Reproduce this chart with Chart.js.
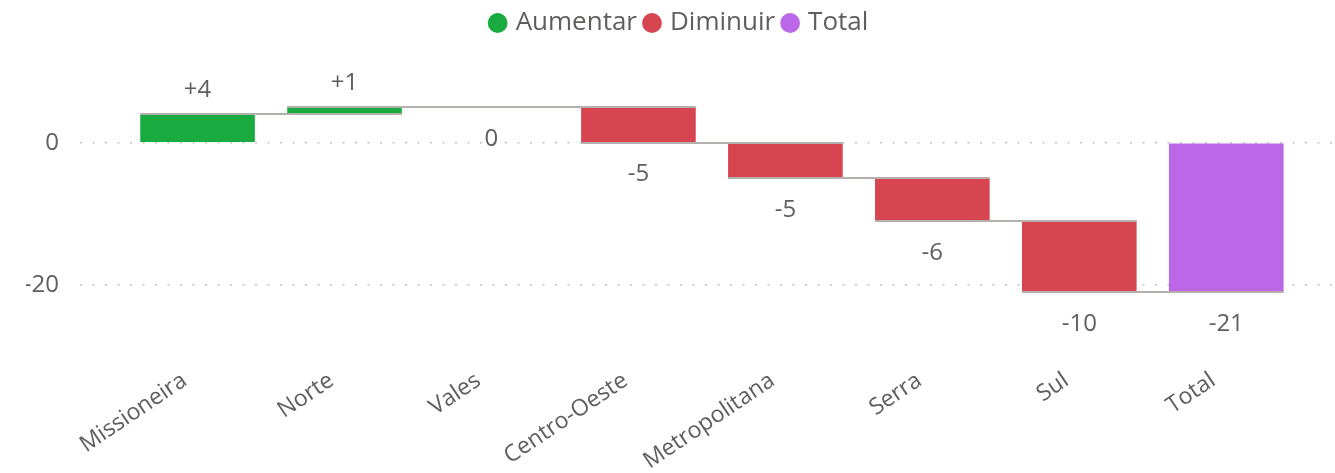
<!DOCTYPE html>
<html>
<head>
<meta charset="utf-8">
<script src="https://cdn.jsdelivr.net/npm/chart.js@4.4.0/dist/chart.umd.min.js"></script>
<style>
  html, body { margin: 0; padding: 0; background: #fff; }
</style>
</head>
<body>
<canvas id="waterfall" width="1335" height="473"></canvas>
<script>
// regions and their change, the last bar is the total
const categories = ['Missioneira', 'Norte', 'Vales', 'Centro-Oeste', 'Metropolitana', 'Serra', 'Sul', 'Total'];
const changes = [4, 1, 0, -5, -5, -6, -10];
const legendNames = ['Aumentar', 'Diminuir', 'Total'];
const legendColors = ['#1aab40', '#d64550', '#bc67e8'];
const yTickValues = [0, -20];

// build floating bars from running totals
const bars = [];
const valueLabels = [];
const barColors = [];
let running = 0;
changes.forEach((d, i) => {
  bars.push({ x: i, y: [running, running + d] });
  running += d;
  valueLabels.push(d > 0 ? '+' + d : String(d));
  barColors.push(d > 0 ? legendColors[0] : legendColors[1]);
});
bars.push({ x: changes.length, y: [0, running] });
valueLabels.push(String(running));
barColors.push(legendColors[2]);

const textColor = '#605e5c';
Chart.defaults.font.family = "'Open Sans', 'Noto Sans', sans-serif";
Chart.defaults.color = textColor;

// grey step lines joining one bar to the next
const connectors = {
  id: 'connectors',
  afterDatasetsDraw(chart) {
    const meta = chart.getDatasetMeta(0);
    const yScale = chart.scales.y;
    const ctx = chart.ctx;
    ctx.save();
    ctx.strokeStyle = '#b3b0ad';
    ctx.lineWidth = 2;
    for (let i = 0; i < meta.data.length - 1; i++) {
      const a = meta.data[i];
      const b = meta.data[i + 1];
      const level = Math.round(yScale.getPixelForValue(bars[i].y[1]));
      ctx.beginPath();
      ctx.moveTo(a.x - a.width / 2, level);
      ctx.lineTo(b.x + b.width / 2, level);
      ctx.stroke();
    }
    ctx.restore();
  }
};

// value labels above rising bars, below the others
const barValues = {
  id: 'barValues',
  afterDatasetsDraw(chart) {
    const meta = chart.getDatasetMeta(0);
    const ctx = chart.ctx;
    ctx.save();
    ctx.font = "24px 'Open Sans', 'Noto Sans', sans-serif";
    ctx.fillStyle = textColor;
    ctx.textAlign = 'center';
    ctx.textBaseline = 'alphabetic';
    meta.data.forEach((el, i) => {
      const top = Math.min(el.y, el.base);
      const bottom = Math.max(el.y, el.base);
      const rising = bars[i].y[1] > bars[i].y[0];
      const y = rising ? top - 17 : bottom + 39;
      ctx.fillText(valueLabels[i], el.x, y);
    });
    ctx.restore();
  }
};

new Chart(document.getElementById('waterfall'), {
  type: 'bar',
  data: {
    datasets: [{
      data: bars,
      backgroundColor: barColors,
      borderWidth: 0,
      barPercentage: 0.78,
      categoryPercentage: 1
    }]
  },
  options: {
    responsive: false,
    animation: false,
    layout: { padding: { left: 26, top: 0, right: 0, bottom: 0 } },
    plugins: {
      tooltip: { enabled: false },
      legend: {
        position: 'top',
        align: 'center',
        onClick: null,
        labels: {
          usePointStyle: true,
          boxWidth: 10,
          boxHeight: 14,
          padding: 10,
          color: textColor,
          font: { size: 26 },
          generateLabels: () => legendNames.map((name, i) => ({
            text: name,
            fillStyle: legendColors[i],
            strokeStyle: legendColors[i],
            lineWidth: 0,
            pointStyle: 'circle',
            hidden: false,
            fontColor: textColor
          }))
        }
      }
    },
    scales: {
      x: {
        type: 'linear',
        offset: false,
        min: -0.8,
        max: 7.74,
        grid: { display: false, drawTicks: false },
        border: { display: false },
        afterBuildTicks: s => { s.ticks = categories.map((c, i) => ({ value: i })); },
        afterFit: s => { s.height = 128; },
        ticks: {
          autoSkip: false,
          minRotation: 34,
          maxRotation: 34,
          padding: 22,
          labelOffset: -13,
          font: { size: 23 },
          color: textColor,
          callback: v => categories[v]
        }
      },
      y: {
        min: -28.48,
        max: 13.62,
        border: { display: false, dash: [2, 10.5] },
        afterBuildTicks: s => { s.ticks = yTickValues.map(v => ({ value: v })); },
        afterFit: s => { s.width = 54; },
        grid: {
          color: '#c4c2c0',
          lineWidth: 1.6,
          drawTicks: false
        },
        ticks: {
          padding: 21,
          font: { size: 24 },
          color: textColor
        }
      }
    }
  },
  plugins: [connectors, barValues]
});
</script>
</body>
</html>
